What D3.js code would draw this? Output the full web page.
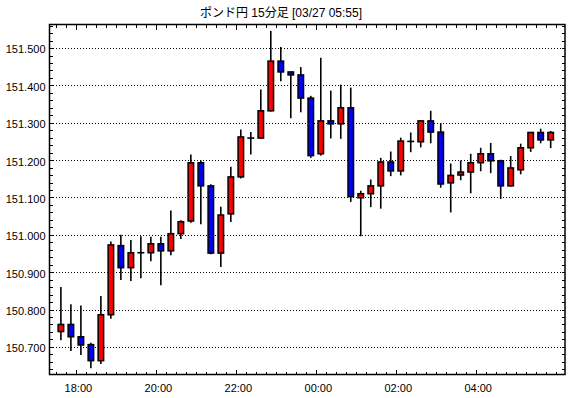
<!DOCTYPE html>
<html>
<head>
<meta charset="utf-8">
<script src="https://cdn.jsdelivr.net/npm/d3@7"></script>
<style>
  body { margin: 0; background: #fff; }
  svg { display: block; }
  text { font-family: "Liberation Sans", "Noto Sans CJK JP", sans-serif; fill: #000; }
</style>
</head>
<body>
<svg width="570" height="398"></svg>
<script>
var svg = d3.select("svg");

// chart title
var title = "ポンド円 15分足 [03/27 05:55]";

// first candle opens 17:30, one candle every 15 minutes
var firstCandle = new Date(2024, 2, 26, 17, 30);
var candleMinutes = 15;

// OHLC series
var opens  = [150.741, 150.760, 150.727, 150.706, 150.663, 150.786, 150.971, 150.912, 150.952, 150.952,
              150.976, 150.957, 151.003, 151.037, 151.193, 151.131, 150.951, 151.056, 151.155, 151.259,
              151.259, 151.332, 151.465, 151.436, 151.428, 151.366, 151.217, 151.305, 151.297, 151.340,
              151.099, 151.110, 151.131, 151.195, 151.171, 151.250, 151.249, 151.305, 151.275, 151.139,
              151.160, 151.168, 151.193, 151.217, 151.198, 151.131, 151.174, 151.233, 151.274, 151.254];
var highs  = [150.860, 150.814, 150.811, 150.711, 150.836, 150.982, 151.000, 150.986, 150.996, 150.995,
              150.995, 151.065, 151.039, 151.215, 151.199, 151.135, 151.075, 151.182, 151.282, 151.275,
              151.389, 151.546, 151.503, 151.437, 151.449, 151.372, 151.474, 151.386, 151.402, 151.394,
              151.118, 151.148, 151.206, 151.223, 151.260, 151.274, 151.307, 151.332, 151.299, 151.191,
              151.199, 151.217, 151.233, 151.246, 151.201, 151.211, 151.244, 151.275, 151.284, 151.278];
var lows   = [150.718, 150.689, 150.678, 150.643, 150.654, 150.775, 150.879, 150.876, 150.884, 150.929,
              150.865, 150.945, 150.989, 151.032, 151.028, 150.948, 150.914, 151.034, 151.151, 151.215,
              151.257, 151.330, 151.411, 151.312, 151.328, 151.206, 151.212, 151.258, 151.257, 151.088,
              150.996, 151.074, 151.070, 151.157, 151.159, 151.221, 151.234, 151.245, 151.126, 151.060,
              151.146, 151.111, 151.170, 151.165, 151.096, 151.129, 151.162, 151.222, 151.245, 151.232];
var closes = [150.760, 150.727, 150.705, 150.663, 150.786, 150.973, 150.912, 150.952, 150.952, 150.976,
              150.957, 151.003, 151.035, 151.193, 151.131, 150.951, 151.053, 151.155, 151.262, 151.259,
              151.332, 151.465, 151.436, 151.428, 151.366, 151.212, 151.305, 151.297, 151.340, 151.102,
              151.110, 151.131, 151.195, 151.171, 151.251, 151.250, 151.305, 151.275, 151.136, 151.159,
              151.168, 151.193, 151.217, 151.198, 151.131, 151.179, 151.233, 151.274, 151.254, 151.274];

// y tick values
var yMajorTicks = [150.7, 150.8, 150.9, 151.0, 151.1, 151.2, 151.3, 151.4, 151.5];
var yMin = 150.626, yMax = 151.563;

// plot frame
var plotL = 49.5, plotR = 565, plotT = 24.5, plotB = 374.5;

var candles = opens.map(function(o, i) {
  return {
    t: d3.timeMinute.offset(firstCandle, i * candleMinutes),
    open: o, high: highs[i], low: lows[i], close: closes[i]
  };
});
var lastCandle = candles[candles.length - 1].t;

var x = d3.scaleTime()
    .domain([new Date(2024, 2, 26, 17, 20, 24), new Date(2024, 2, 27, 6, 14, 0)])
    .range([plotL, plotR]);
var y = d3.scaleLinear().domain([yMin, yMax]).range([plotB, plotT]);

// minor y ticks every 0.02
var yMinorTicks = d3.range(Math.ceil(yMin * 50), Math.floor(yMax * 50) + 1).map(function(k) { return k / 50; });
var xMinorTicks = x.ticks(d3.timeMinute.every(15));
var xMajorTicks = xMinorTicks.filter(function(d) {
  return d.getMinutes() === 0 && d.getHours() % 2 === 0 && d <= lastCandle;
});

function clean(g) {
  g.select(".domain").remove();
  g.selectAll(".tick line").attr("stroke", "#000").attr("stroke-width", 1).attr("shape-rendering", "crispEdges");
}

// title
svg.append("text")
    .attr("x", 281).attr("y", 17)
    .attr("text-anchor", "middle")
    .attr("font-size", "12px")
    .text(title);

// dotted gridlines
svg.append("g")
    .attr("transform", "translate(" + plotL + ",0)")
    .call(d3.axisLeft(y).tickValues(yMajorTicks).tickSize(-(plotR - plotL)).tickFormat(""))
    .call(clean)
    .selectAll(".tick line")
    .attr("stroke-dasharray", "1,2");

// left axis
svg.append("g")
    .attr("transform", "translate(" + plotL + ",0)")
    .call(d3.axisLeft(y).tickValues(yMinorTicks).tickSize(-3).tickFormat(""))
    .call(clean);
svg.append("g")
    .attr("transform", "translate(" + plotL + ",0)")
    .call(d3.axisLeft(y).tickValues(yMajorTicks).tickSize(-3).tickPadding(4).tickFormat(d3.format(".3f")))
    .call(clean)
    .selectAll("text")
    .attr("font-size", "11px")
    .attr("dy", "0.45em");

// right axis
svg.append("g")
    .attr("transform", "translate(" + plotR + ",0)")
    .call(d3.axisRight(y).tickValues(yMinorTicks).tickSize(-3).tickFormat(""))
    .call(clean);

// top axis
svg.append("g")
    .attr("transform", "translate(0," + plotT + ")")
    .call(d3.axisTop(x).tickValues(xMinorTicks).tickSize(-3).tickFormat(""))
    .call(clean);
svg.append("g")
    .attr("transform", "translate(0," + plotT + ")")
    .call(d3.axisTop(x).tickValues(xMajorTicks).tickSize(-5).tickFormat(""))
    .call(clean);

// bottom axis
svg.append("g")
    .attr("transform", "translate(0," + plotB + ")")
    .call(d3.axisBottom(x).tickValues(xMinorTicks).tickSize(-3).tickFormat(""))
    .call(clean);
svg.append("g")
    .attr("transform", "translate(0," + plotB + ")")
    .call(d3.axisBottom(x).tickValues(xMajorTicks).tickSize(-5).tickPadding(10).tickFormat(d3.timeFormat("%H:%M")))
    .call(clean)
    .selectAll("text")
    .attr("font-size", "11px")
    .attr("dx", "2px");

// frame
svg.append("rect")
    .attr("x", plotL).attr("y", plotT)
    .attr("width", plotR - plotL).attr("height", plotB - plotT)
    .attr("fill", "none")
    .attr("stroke", "#000")
    .attr("stroke-width", 1.5);

// candles
var half = candleMinutes / 2;
var bodyW = 5.5;
var candle = svg.append("g")
    .attr("class", "candles")
    .selectAll("g")
    .data(candles)
    .enter().append("g")
    .attr("transform", function(d) {
      return "translate(" + x(d3.timeSecond.offset(d.t, half * 60)) + ",0)";
    });

candle.append("line")
    .attr("y1", function(d) { return y(d.high); })
    .attr("y2", function(d) { return y(d.low); })
    .attr("stroke", "#000")
    .attr("stroke-width", 1.6);

candle.filter(function(d) { return Math.abs(d.close - d.open) > 0.0015; })
    .append("rect")
    .attr("x", -bodyW / 2)
    .attr("width", bodyW)
    .attr("y", function(d) { return y(Math.max(d.open, d.close)); })
    .attr("height", function(d) { return Math.abs(y(d.open) - y(d.close)); })
    .attr("fill", function(d) { return d.close > d.open ? "#ff0000" : "#0000ff"; })
    .attr("stroke", "#000")
    .attr("stroke-width", 1.5);

candle.filter(function(d) { return Math.abs(d.close - d.open) <= 0.0015; })
    .append("line")
    .attr("x1", -3.5).attr("x2", 3.5)
    .attr("y1", function(d) { return y(d.close); })
    .attr("y2", function(d) { return y(d.close); })
    .attr("stroke", "#000")
    .attr("stroke-width", 1.6);
</script>
</body>
</html>
